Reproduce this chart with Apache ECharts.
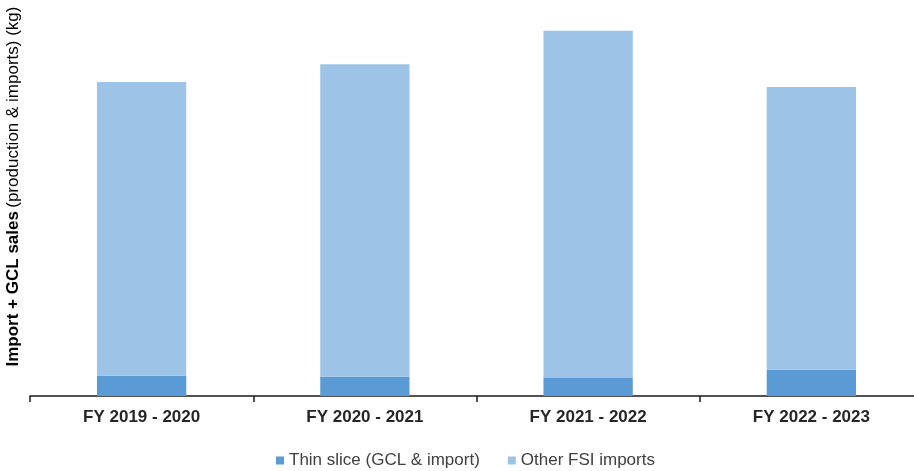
<!DOCTYPE html>
<html>
<head>
<meta charset="utf-8">
<style>
  html, body { margin: 0; padding: 0; background: #fff; }
  #chart { width: 914px; height: 471px; }
</style>
<script src="https://cdn.jsdelivr.net/npm/echarts@6/dist/echarts.min.js"></script>
</head>
<body>
<div id="chart"></div>
<script>
// Fiscal years on the category axis
const categories = ['FY 2019 - 2020', 'FY 2020 - 2021', 'FY 2021 - 2022', 'FY 2022 - 2023'];
// Stacked quantities (kg, relative scale)
const thinSlice = [20.5, 19.5, 18.2, 26.6];
const otherFsiImports = [296.7, 315.5, 350.8, 285.5];
const seriesNames = ['Thin slice (GCL & import)', 'Other FSI imports'];

const chart = echarts.init(document.getElementById('chart'));
const FONT = '"Liberation Sans", Arial, sans-serif';

chart.setOption({
  animation: false,
  textStyle: { fontFamily: FONT },
  grid: { left: 30, right: -9, top: 0, bottom: 75, containLabel: false, outerBoundsMode: 'none' },
  legend: {
    bottom: -3,
    left: 271,
    itemWidth: 8,
    itemHeight: 8,
    itemGap: 28,
    icon: 'rect',
    textStyle: { fontFamily: FONT, fontSize: 17, color: '#404040' },
    data: seriesNames
  },
  xAxis: {
    type: 'category',
    data: categories,
    axisLine: { show: true, lineStyle: { color: '#1a1a1a', width: 1.5 } },
    axisTick: { show: true, length: 6, lineStyle: { color: '#1a1a1a', width: 1.5 } },
    axisLabel: { margin: 13, fontFamily: FONT, fontSize: 17, fontWeight: 'bold', color: '#262626' }
  },
  yAxis: {
    type: 'value',
    min: 0,
    max: 400,
    axisLine: { show: false },
    axisTick: { show: false },
    axisLabel: { show: false },
    splitLine: { show: false },
    name: '{b|Import + GCL sales} {n|(production & imports) (kg)}',
    nameLocation: 'middle',
    nameGap: 8,
    nameRotate: 90,
    nameTextStyle: {
      padding: [0, 0, 0, 23],
      rich: {
        b: { fontFamily: FONT, fontSize: 17, fontWeight: 'bold', color: '#000' },
        n: { fontFamily: FONT, fontSize: 17, color: '#000' }
      }
    }
  },
  series: [
    {
      name: seriesNames[0],
      type: 'bar',
      stack: 'total',
      barWidth: '40%',
      itemStyle: { color: '#5B9BD5' },
      data: thinSlice
    },
    {
      name: seriesNames[1],
      type: 'bar',
      stack: 'total',
      barWidth: '40%',
      itemStyle: { color: '#9DC3E6' },
      data: otherFsiImports
    }
  ]
});
</script>
</body>
</html>
